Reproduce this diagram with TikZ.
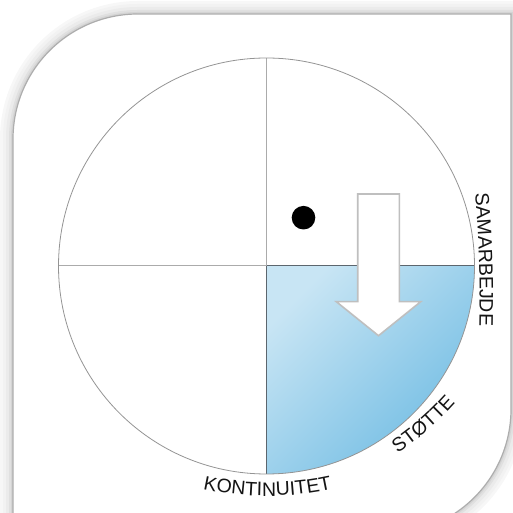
\documentclass[tikz,border=0pt]{standalone}
\usepackage{fontspec}
\setsansfont{Liberation Sans}
\usetikzlibrary{decorations.text}
\definecolor{wheelLight}{RGB}{200,229,244}
\definecolor{wheelDark}{RGB}{112,188,227}
\definecolor{wheelEdge}{RGB}{92,102,110}
\definecolor{labelInk}{RGB}{20,20,20}
\newcommand{\wheelfont}{\sffamily\fontsize{19.5}{22}\selectfont\color{labelInk}}
\tikzset{wheelpanel/.style={
  x=1pt, y=1pt,
  rim/.style={draw=black!42, line width=0.8pt},
  cross/.style={draw=black!33, line width=1pt},
  quad/.style={top color=wheelLight, bottom color=wheelDark, shading angle=45, draw=none},
  quadedge/.style={draw=wheelEdge, line width=1pt},
  pointer/.style={fill=white, draw=black!25, line width=1.6pt, line join=miter},
  marker/.style={fill=black, draw=none},
}}

\begin{document}
\begin{tikzpicture}[wheelpanel,
  arclab/.style={decorate, decoration={text along path, text align=center, text={|\wheelfont|#1}}},
]
\useasboundingbox (0,0) rectangle (512,513);

% =====================================================================
% panel with soft shadow
% =====================================================================
\def\panelpath{(13,-21) -- (13,374) arc[start angle=180, end angle=90, radius=125]
  -- (511,499) -- (511,104) arc[start angle=0, end angle=-90, radius=125] -- cycle}
\foreach \w/\g in {26/3, 20/5, 14/8, 8/12, 4/17}{
  \draw[line width=\w pt, black!\g] \panelpath;
}
\fill[white] \panelpath;
\draw[black!32, line width=1.2pt] \panelpath;

% =====================================================================
% wheel
% =====================================================================
\coordinate (c) at (266.5,247);
\draw[cross] (c) ++(-208,0) -- ++(416,0);
\draw[cross] (c) ++(0,-208) -- ++(0,416);
\path[quad] (c) -- ++(208,0) arc[start angle=0, end angle=-90, radius=208] -- cycle;
\draw[quadedge] (c) -- ++(208,0);
\draw[quadedge] (c) -- ++(0,-208);
\draw[rim] (c) circle[radius=208];

% pointer and marker
\draw[pointer] (357.7,319) -- (399.3,319) -- (399.3,211.3) -- (420.7,211.3)
  -- (378.5,177.3) -- (336.3,211.3) -- (357.7,211.3) -- cycle;
\fill[marker] (303.5,295.3) circle[radius=11.8];

% labels: each on a flatter path of its own
\coordinate (samA) at (474.6,324);
\coordinate (samB) at (479.2,182);
\coordinate (stoC) at (231.3,309.5);
\coordinate (konC) at (267.5,317);
\path[arclab=SAMARBEJDE] (samA) to[bend left=3] (samB);
\path[arclab=STØTTE] (stoC) ++(-64:300) arc[start angle=-64, end angle=-34, radius=300];
\path[arclab=KONTINUITET] (konC) ++(-106:300) arc[start angle=-106, end angle=-74, radius=300];

\end{tikzpicture}
\end{document}
